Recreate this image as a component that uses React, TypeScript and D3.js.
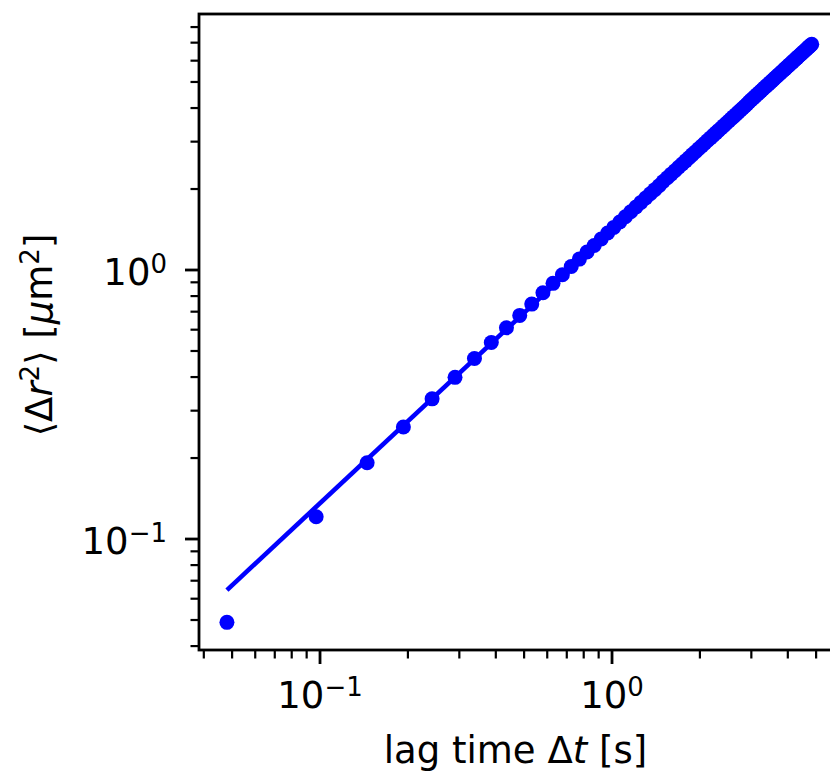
import React from "react";
import * as d3 from "d3";

// Lag times Δt [s]
const lagTimes = [
  0.048, 0.097, 0.145, 0.193, 0.242, 0.290, 0.338, 0.386, 0.435, 0.483,
  0.531, 0.580, 0.628, 0.676, 0.725, 0.773, 0.821, 0.869, 0.918, 0.966,
  1.014, 1.063, 1.111, 1.159, 1.208, 1.256, 1.304, 1.352, 1.401, 1.449,
  1.497, 1.546, 1.594, 1.642, 1.691, 1.739, 1.787, 1.835, 1.884, 1.932,
  1.980, 2.029, 2.077, 2.125, 2.174, 2.222, 2.270, 2.318, 2.367, 2.415,
  2.463, 2.512, 2.560, 2.608, 2.657, 2.705, 2.753, 2.801, 2.850, 2.898,
  2.946, 2.995, 3.043, 3.091, 3.140, 3.188, 3.236, 3.284, 3.333, 3.381,
  3.429, 3.478, 3.526, 3.574, 3.623, 3.671, 3.719, 3.767, 3.816, 3.864,
  3.912, 3.961, 4.009, 4.057, 4.106, 4.154, 4.202, 4.250, 4.299, 4.347,
  4.395, 4.444, 4.492, 4.540, 4.589, 4.637, 4.685, 4.733, 4.782, 4.830,
];

// Mean squared displacement <Δr²> [µm²]
const msdValues = [
  0.049, 0.121, 0.192, 0.261, 0.332, 0.399, 0.469, 0.538, 0.610, 0.678,
  0.747, 0.823, 0.892, 0.960, 1.030, 1.098, 1.166, 1.234, 1.304, 1.372,
  1.440, 1.509, 1.578, 1.646, 1.715, 1.784, 1.852, 1.920, 1.989, 2.058,
  2.133, 2.203, 2.271, 2.340, 2.410, 2.478, 2.546, 2.615, 2.685, 2.753,
  2.822, 2.891, 2.960, 3.028, 3.098, 3.166, 3.235, 3.303, 3.373, 3.441,
  3.510, 3.580, 3.648, 3.716, 3.786, 3.855, 3.923, 3.991, 4.061, 4.130,
  4.213, 4.283, 4.351, 4.420, 4.490, 4.559, 4.627, 4.696, 4.766, 4.835,
  4.903, 4.974, 5.042, 5.111, 5.181, 5.250, 5.318, 5.387, 5.457, 5.526,
  5.594, 5.664, 5.733, 5.802, 5.872, 5.940, 6.009, 6.078, 6.148, 6.216,
  6.285, 6.355, 6.424, 6.492, 6.562, 6.631, 6.700, 6.768, 6.838, 6.907,
];

// Power-law fit line (straight in log-log), endpoints
const fitTimes = [0.048, 4.83];
const fitMsd = [0.0646, 6.9];

const xMajorTicks = [0.1, 1];
const xMajorLabels = [["10", "\u22121"], ["10", "0"]];
const xMinorTicks = [0.04, 0.05, 0.06, 0.07, 0.08, 0.09, 0.2, 0.3, 0.4, 0.5, 0.6, 0.7, 0.8, 0.9, 2, 3, 4, 5, 6];
const yMajorTicks = [0.1, 1];
const yMajorLabels = [["10", "\u22121"], ["10", "0"]];
const yMinorTicks = [0.04, 0.05, 0.06, 0.07, 0.08, 0.09, 0.2, 0.3, 0.4, 0.5, 0.6, 0.7, 0.8, 0.9, 2, 3, 4, 5, 6, 7, 8];

const W = 830;
const H = 777;
const FONT = "DejaVu Sans, sans-serif";
const FS = 37;
const SFS = 26;
const BLUE = "#0000ff";

export default function App() {
  const left = 199, right = 841, top = 14, bottom = 650;
  const x = d3.scaleLog().domain([0.03851, 6.084]).range([left, right]);
  const y = d3.scaleLog().domain([0.03868, 8.946]).range([bottom, top]);

  const fitLine = d3.line<number>()
    .x((_, i) => x(fitTimes[i]))
    .y((d) => y(d))(fitMsd);

  const inX = (v: number) => x(v) >= left - 0.5 && x(v) <= right + 0.5;
  const inY = (v: number) => y(v) <= bottom + 0.5 && y(v) >= top - 0.5;

  return (
    <svg width={W} height={H} style={{ position: "absolute", left: 0, top: 0, background: "#fff" }}
      fontFamily={FONT}>
      <rect x={0} y={0} width={W} height={H} fill="#fff" />
      {/* fit line */}
      <path d={fitLine || ""} fill="none" stroke={BLUE} strokeWidth={4.6} strokeLinecap="butt" />
      {/* data points */}
      {lagTimes.map((t, i) => (
        <circle key={i} cx={x(t)} cy={y(msdValues[i])} r={7.5} fill={BLUE} />
      ))}
      {/* spines */}
      <rect x={left} y={top} width={right - left} height={bottom - top} fill="none" stroke="#000" strokeWidth={2.8} />
      {/* x ticks */}
      {xMinorTicks.filter(inX).map((v, i) => (
        <line key={"xm" + i} x1={x(v)} x2={x(v)} y1={bottom} y2={bottom + 8.5} stroke="#000" strokeWidth={2.2} />
      ))}
      {xMajorTicks.map((v, i) => (
        <g key={"xM" + i}>
          <line x1={x(v)} x2={x(v)} y1={bottom} y2={bottom + 14} stroke="#000" strokeWidth={2.8} />
          <text x={x(v)} y={708} textAnchor="middle" fontSize={FS} fill="#000">
            {xMajorLabels[i][0]}
            <tspan fontSize={SFS} dy={-12}>{xMajorLabels[i][1]}</tspan>
          </text>
        </g>
      ))}
      {/* y ticks */}
      {yMinorTicks.filter(inY).map((v, i) => (
        <line key={"ym" + i} x1={left} x2={left - 8.5} y1={y(v)} y2={y(v)} stroke="#000" strokeWidth={2.2} />
      ))}
      {yMajorTicks.map((v, i) => (
        <g key={"yM" + i}>
          <line x1={left} x2={left - 14} y1={y(v)} y2={y(v)} stroke="#000" strokeWidth={2.8} />
          <text x={167} y={y(v) + 14.5} textAnchor="end" fontSize={FS} fill="#000">
            {yMajorLabels[i][0]}
            <tspan fontSize={SFS} dy={-12}>{yMajorLabels[i][1]}</tspan>
          </text>
        </g>
      ))}
      {/* axis labels */}
      <text x={515.5} y={763} textAnchor="middle" fontSize={FS} fill="#000">
        lag time {"\u0394"}<tspan fontStyle="italic">t</tspan> [s]
      </text>
      <text transform="translate(52,335) rotate(-90)" textAnchor="middle" fontSize={FS} fill="#000">
        {"\u27E8\u0394"}<tspan fontStyle="italic">r</tspan>
        <tspan fontSize={SFS} dy={-13}>2</tspan>
        <tspan dy={13}>{"\u27E9 ["}</tspan>
        <tspan fontStyle="italic">{"\u03BC"}</tspan>m
        <tspan fontSize={SFS} dy={-13}>2</tspan>
        <tspan dy={13}>]</tspan>
      </text>
    </svg>
  );
}
